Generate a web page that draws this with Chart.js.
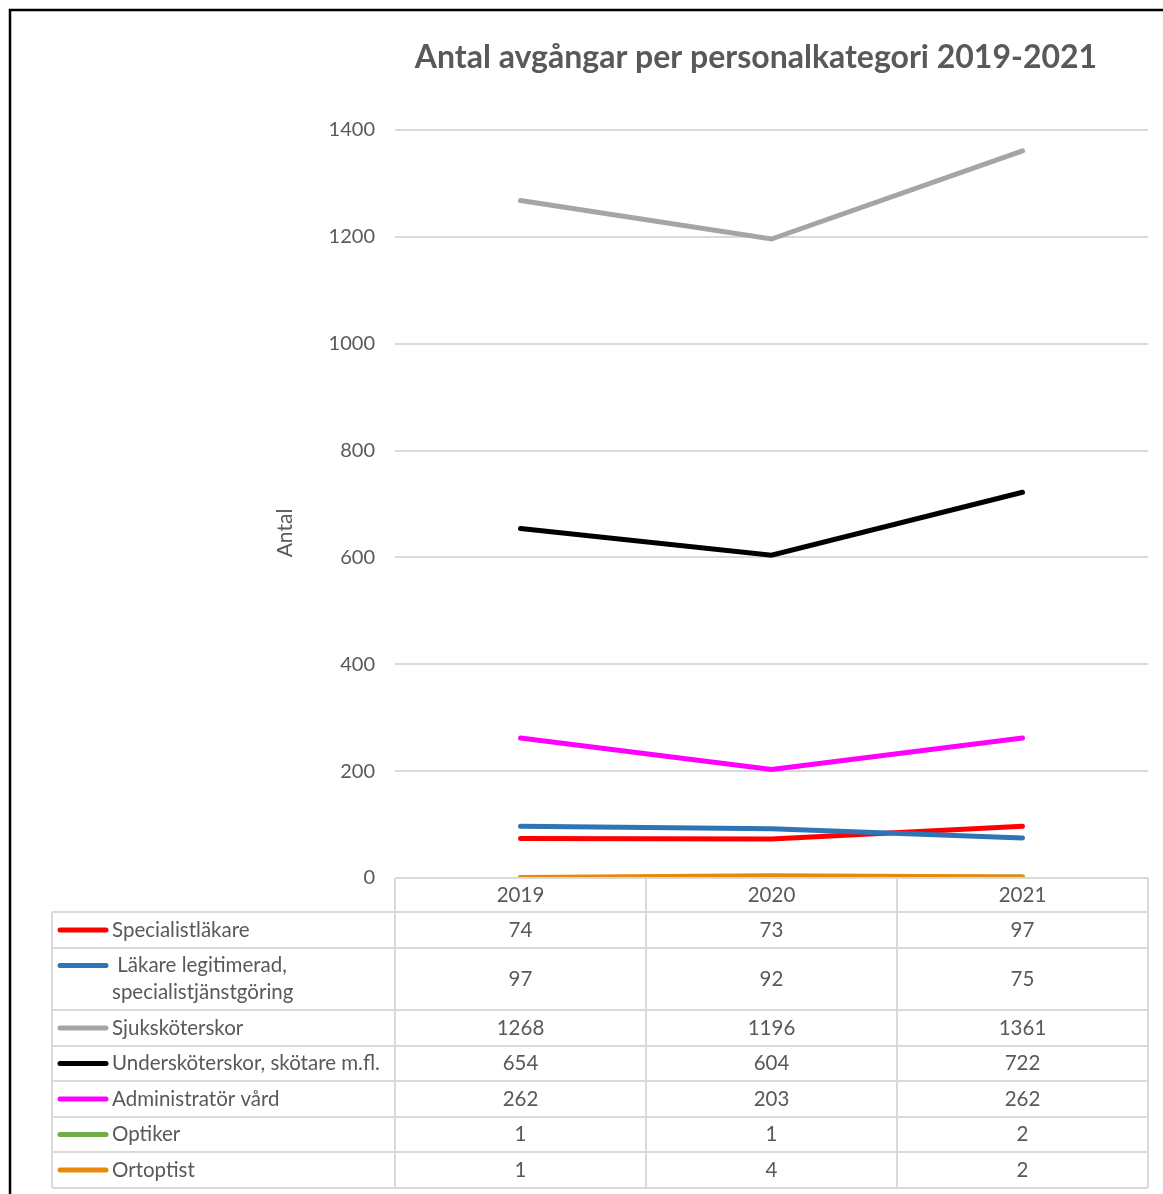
<!DOCTYPE html>
<html>
<head>
<meta charset="utf-8">
<script src="https://cdn.jsdelivr.net/npm/chart.js@4"></script>
<style>
  html, body { margin: 0; padding: 0; background: #fff; }
  #wrap { width: 1163px; height: 1194px; }
</style>
</head>
<body>
<div id="wrap"><canvas id="myChart" width="1163" height="1194"></canvas></div>
<script>
const years = ["2019", "2020", "2021"];
const specialistlakare = [74, 73, 97];
const lakareLeg = [97, 92, 75];
const sjukskoterskor = [1268, 1196, 1361];
const underskoterskor = [654, 604, 722];
const administrator = [262, 203, 262];
const optiker = [1, 1, 2];
const ortoptist = [1, 4, 2];
const yTicks = [0, 200, 400, 600, 800, 1000, 1200, 1400];

const series = [
  { label: ["Specialistläkare"], data: specialistlakare, color: "#FF0000" },
  { label: [" Läkare legitimerad,", "specialistjänstgöring"], data: lakareLeg, color: "#2E75B6" },
  { label: ["Sjuksköterskor"], data: sjukskoterskor, color: "#A5A5A5" },
  { label: ["Undersköterskor, skötare m.fl."], data: underskoterskor, color: "#000000" },
  { label: ["Administratör vård"], data: administrator, color: "#FF00FF" },
  { label: ["Optiker"], data: optiker, color: "#70AD47" },
  { label: ["Ortoptist"], data: ortoptist, color: "#E8890C" }
];

const textColor = "#595959";
const gridColor = "#D9D9D9";
const font = "Lato, 'Open Sans', sans-serif";

// table rows: top edge of each row, last entry = bottom
const headerTop = 878;
const rowEdges = [912, 948, 1010, 1046, 1081, 1117, 1152, 1188];
const tableLeft = 52;

const tablePlugin = {
  id: "tablePlugin",
  beforeDraw(chart) {
    const ctx = chart.ctx;
    ctx.save();
    ctx.fillStyle = "#fff";
    ctx.fillRect(0, 0, chart.width, chart.height);
    ctx.strokeStyle = "#000";
    ctx.lineWidth = 2.5;
    ctx.strokeRect(10, 10, chart.width + 20, chart.height + 20);
    ctx.restore();
  },
  afterDraw(chart) {
    const ctx = chart.ctx;
    const x = chart.scales.x;
    const area = chart.chartArea;
    ctx.save();

    // title
    ctx.fillStyle = textColor;
    ctx.font = "bold 32px " + font;
    ctx.textAlign = "center";
    ctx.textBaseline = "middle";
    ctx.fillText("Antal avgångar per personalkategori 2019-2021", 756, 58);

    // y axis title (Excel places it a little below the axis middle)
    ctx.save();
    ctx.translate(285, 533);
    ctx.rotate(-Math.PI / 2);
    ctx.font = "21px " + font;
    ctx.fillText("Antal", 0, 0);
    ctx.restore();

    // table grid
    ctx.strokeStyle = gridColor;
    ctx.lineWidth = 2;
    const bottom = rowEdges[rowEdges.length - 1];
    const bounds = [area.left];
    years.forEach((y, i) => {
      const c = x.getPixelForValue(i);
      const next = i < years.length - 1 ? x.getPixelForValue(i + 1) : null;
      bounds.push(next === null ? area.right : (c + next) / 2);
    });
    ctx.beginPath();
    ctx.moveTo(area.left, headerTop);
    ctx.lineTo(area.right, headerTop);
    rowEdges.forEach(r => {
      ctx.moveTo(tableLeft, r);
      ctx.lineTo(area.right, r);
    });
    bounds.forEach(b => {
      ctx.moveTo(b, headerTop);
      ctx.lineTo(b, bottom);
    });
    ctx.moveTo(tableLeft, rowEdges[0]);
    ctx.lineTo(tableLeft, bottom);
    ctx.stroke();

    // header years
    ctx.fillStyle = textColor;
    ctx.font = "20.5px " + font;
    ctx.textAlign = "center";
    years.forEach((y, i) => {
      ctx.fillText(y, x.getPixelForValue(i), (headerTop + rowEdges[0]) / 2);
    });

    // rows
    series.forEach((s, r) => {
      const top = rowEdges[r];
      const bot = rowEdges[r + 1];
      const mid = (top + bot) / 2;
      const lines = s.label.length;
      const lh = 27;
      const firstY = mid - (lines - 1) * lh / 2;
      // key line
      ctx.strokeStyle = s.color;
      ctx.lineWidth = 5;
      ctx.lineCap = "round";
      ctx.beginPath();
      ctx.moveTo(60, firstY);
      ctx.lineTo(106, firstY);
      ctx.stroke();
      ctx.fillStyle = textColor;
      ctx.textAlign = "left";
      s.label.forEach((t, k) => ctx.fillText(t, 112, firstY + k * lh));
      ctx.textAlign = "center";
      s.data.forEach((v, i) => ctx.fillText(String(v), x.getPixelForValue(i), mid));
    });
    ctx.restore();
  }
};

const datasets = series.map((s, i) => ({
  label: s.label.join(" "),
  data: s.data,
  borderColor: s.color,
  backgroundColor: s.color,
  borderWidth: 5,
  pointRadius: 0,
  tension: 0,
  borderCapStyle: "round",
  order: series.length - i
}));

const config = {
  type: "line",
  data: { labels: years, datasets: datasets },
  options: {
    responsive: false,
    animation: false,
    layout: { padding: { left: 270, right: 15, top: 130, bottom: 316 } },
    plugins: {
      legend: { display: false },
      title: { display: false },
      tooltip: { enabled: false }
    },
    scales: {
      x: {
        display: false,
        offset: true
      },
      y: {
        min: 0,
        max: 1400,
        afterBuildTicks(axis) {
          axis.ticks = yTicks.map(v => ({ value: v }));
        },
        afterFit(axis) {
          axis.width = 125;
        },
        grid: { color: gridColor, lineWidth: 2, drawTicks: false },
        border: { display: false },
        ticks: {
          color: textColor,
          font: { family: font, size: 20 },
          padding: 20,
          callback: v => String(v)
        }
      }
    }
  },
  plugins: [tablePlugin]
};

const myChart = new Chart(document.getElementById("myChart"), config);
</script>
</body>
</html>
